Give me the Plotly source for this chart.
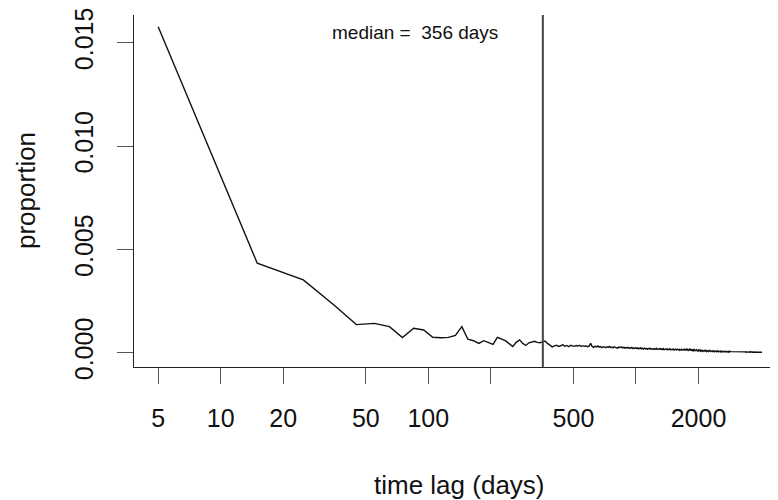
import plotly.graph_objects as go

# time-lag bins (days, 10-day bin midpoints)
lag_days = list(range(5, 4055, 10))

# proportion x 1e5
prop_e5 = [
    1577, 433, 352, 232, 136, 142, 126, 73, 118, 110,
    75, 72, 74, 84, 126, 65, 58, 45, 58, 50,
    40, 74, 64, 58, 44, 30, 50, 62, 45, 35,
    48, 52, 55, 50, 48, 52, 56, 45, 36, 28,
    33, 36, 30, 34, 38, 31, 35, 29, 36, 33,
    31, 35, 32, 36, 30, 34, 31, 33, 29, 32,
    45, 30, 26, 31, 28, 33, 27, 30, 25, 29,
    27, 24, 29, 26, 30, 25, 27, 23, 28, 25,
    26, 22, 27, 24, 25, 28, 23, 26, 22, 25,
    23, 26, 21, 24, 22, 25, 20, 23, 21, 24,
    21, 23, 19, 22, 20, 24, 19, 21, 18, 22,
    20, 18, 21, 17, 20, 19, 22, 17, 19, 18,
    19, 17, 20, 16, 18, 21, 16, 18, 17, 19,
    17, 19, 15, 18, 16, 20, 15, 17, 16, 18,
    16, 18, 14, 17, 15, 19, 14, 16, 15, 17,
    15, 17, 13, 16, 14, 18, 13, 15, 14, 16,
    14, 16, 12, 15, 13, 17, 12, 14, 13, 15,
    13, 19, 12, 16, 11, 20, 12, 15, 11, 14,
    12, 18, 11, 14, 10, 17, 11, 13, 10, 14,
    11, 14, 9, 13, 9, 14, 10, 12, 8, 12,
    10, 13, 8, 12, 7, 13, 9, 11, 7, 11,
    9, 12, 7, 11, 7, 12, 8, 10, 6, 10,
    9, 11, 6, 10, 6, 11, 7, 10, 6, 9,
    8, 10, 6, 9, 5, 10, 7, 9, 5, 8,
    7, 9, 5, 8, 5, 9, 6, 8, 5, 8,
    7, 9, 5, 8, 4, 8, 6, 7, 4, 7,
    6, 8, 4, 7, 4, 7, 5, 7, 4, 6,
    6, 7, 4, 6, 3, 7, 5, 6, 3, 6,
    5, 7, 4, 6, 3, 6, 5, 5, 3, 5,
    5, 6, 3, 5, 3, 6, 4, 5, 3, 5,
    5, 6, 3, 5, 3, 5, 4, 5, 3, 4,
    4, 5, 3, 5, 3, 5, 4, 4, 3, 4,
    4, 5, 3, 4, 3, 5, 3, 4, 3, 4,
    4, 5, 3, 4, 3, 4, 3, 4, 2, 4,
    3, 4, 3, 4, 2, 4, 3, 3, 2, 3,
    3, 4, 2, 3, 2, 4, 3, 3, 2, 3,
    3, 4, 2, 3, 2, 3, 2, 3, 2, 3,
    3, 3, 2, 3, 2, 3, 2, 3, 2, 2,
    2, 3, 2, 3, 2, 3, 2, 2, 2, 3,
    2, 3, 2, 2, 1, 3, 2, 2, 1, 2,
    2, 2, 1, 2, 2,
]
proportion = [v * 1e-5 for v in prop_e5]

median_days = 356

x_tick_vals = [5, 10, 20, 50, 100, 200, 500, 1000, 2000]
x_tick_text = ["5", "10", "20", "50", "100", "", "500", "", "2000"]
y_tick_vals = [0.0, 0.005, 0.010, 0.015]
y_tick_text = ["0.000", "0.005", "0.010", "0.015"]

FONT = "Liberation Sans, Arial, Helvetica, sans-serif"

fig = go.Figure()
fig.add_trace(go.Scatter(
    x=lag_days, y=proportion, mode="lines",
    line=dict(color="#111111", width=1.4),
    hoverinfo="skip", showlegend=False,
))

fig.add_shape(type="line", xref="x", yref="paper",
              x0=median_days, x1=median_days, y0=0, y1=1,
              line=dict(color="#444444", width=2))

fig.add_annotation(text=f"median = \u00a0{median_days} days",
                   xref="paper", yref="paper", x=0.437, y=0.949,
                   xanchor="center", yanchor="middle", showarrow=False,
                   font=dict(family=FONT, size=19, color="#111111"))

fig.add_annotation(text="proportion", xref="paper", yref="paper",
                   x=-0.1677, y=0.5, textangle=-90, showarrow=False,
                   xanchor="center", yanchor="middle",
                   font=dict(family=FONT, size=26, color="#111111"))
fig.add_annotation(text="time lag (days)", xref="paper", yref="paper",
                   x=0.506, y=-0.335, showarrow=False,
                   xanchor="center", yanchor="middle",
                   font=dict(family=FONT, size=26, color="#111111"))

fig.update_layout(
    width=770, height=492,
    margin=dict(l=126, r=0, t=7, b=133),
    paper_bgcolor="white", plot_bgcolor="white",
    font=dict(family=FONT, color="#111111"),
    showlegend=False,
)
fig.update_xaxes(
    type="log", range=[0.5825, 3.684],
    tickvals=x_tick_vals, ticktext=x_tick_text,
    showline=True, linecolor="#222222", linewidth=1,
    ticks="outside", ticklen=16, tickwidth=1, tickcolor="#555555",
    ticklabelstandoff=13, ticklabeloverflow="allow",
    tickfont=dict(family=FONT, size=25, color="#111111"),
    showgrid=False, zeroline=False,
)
fig.update_yaxes(
    range=[-0.000692, 0.01634],
    tickvals=y_tick_vals, ticktext=y_tick_text, tickangle=-90,
    showline=True, linecolor="#222222", linewidth=1,
    ticks="outside", ticklen=16, tickwidth=1, tickcolor="#555555",
    ticklabelstandoff=14, ticklabeloverflow="allow",
    tickfont=dict(family=FONT, size=25, color="#111111"),
    showgrid=False, zeroline=False,
)

fig.write_html("out.html")
